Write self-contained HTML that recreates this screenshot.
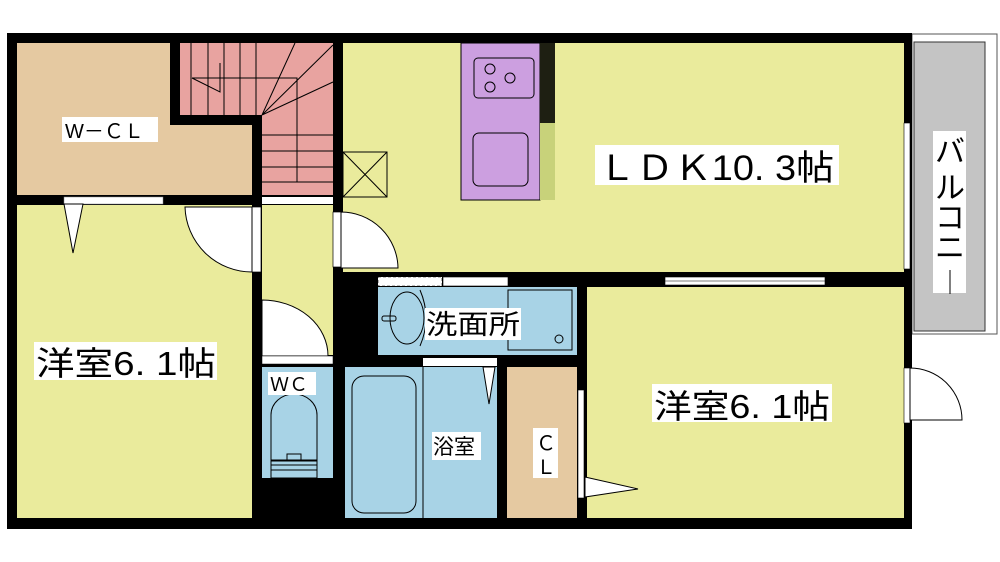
<!DOCTYPE html>
<html><head><meta charset="utf-8"><style>
html,body{margin:0;padding:0;background:#fff;width:1000px;height:562px;overflow:hidden}
svg{display:block}
text{font-family:"Liberation Sans","Noto Sans CJK JP",sans-serif;fill:#000}
</style></head><body>
<svg width="1000" height="562" viewBox="0 0 1000 562">
<!-- balcony -->
<rect x="912" y="34" width="85" height="300" fill="#fff" stroke="#555" stroke-width="1"/>
<rect x="914" y="42" width="71" height="289" fill="#c4c4c4" stroke="#333" stroke-width="1"/>
<!-- outer black -->
<rect x="7" y="33" width="905" height="496" fill="#000"/>
<!-- rooms -->
<rect x="17" y="43" width="153" height="152" fill="#e5c9a1"/>
<rect x="170" y="125" width="82" height="70" fill="#e5c9a1"/>
<rect x="180" y="43" width="153" height="72" fill="#e8a3a0"/>
<rect x="262" y="115" width="71" height="80" fill="#e8a3a0"/>
<rect x="17" y="205" width="235" height="313" fill="#eaeb9c"/>
<rect x="262" y="205" width="71" height="150" fill="#eaeb9c"/>
<rect x="343" y="43" width="561" height="229" fill="#eaeb9c"/>
<rect x="333" y="43" width="10" height="212" fill="#000"/>
<rect x="587" y="287" width="317" height="231" fill="#eaeb9c"/>
<rect x="378" y="287" width="199" height="68" fill="#a8d3e6"/>
<rect x="262" y="367" width="71" height="111" fill="#a8d3e6"/>
<rect x="345" y="367" width="152" height="151" fill="#a8d3e6"/>
<rect x="507" y="367" width="70" height="151" fill="#e5c9a1"/>
<!-- kitchen -->
<rect x="461" y="43" width="79" height="157" fill="#cc9fe0" stroke="#000" stroke-width="1"/>
<rect x="540" y="43" width="15" height="157" fill="#c8d27a"/>
<rect x="540" y="43" width="15" height="80" fill="#000" opacity="0.85"/>
<rect x="474" y="58" width="60" height="40" rx="4" fill="none" stroke="#000"/>
<circle cx="490" cy="69" r="5" fill="none" stroke="#000"/><circle cx="490" cy="87" r="5" fill="none" stroke="#000"/><circle cx="510" cy="78" r="5" fill="none" stroke="#000"/>
<rect x="473" y="133" width="55" height="53" rx="6" fill="none" stroke="#000"/>
<!-- X box -->
<rect x="343" y="152" width="44" height="45" fill="none" stroke="#000"/>
<path d="M343 152L387 197M387 152L343 197" stroke="#000"/>
<!-- stairs lines -->
<g stroke="#000" stroke-width="1" fill="none">
<path d="M191 43V115M208 43V115M224 43V115M240 43V115M256 43V115"/>
<path d="M262 115L295 43M262 115L333 45M262 115L333 82M192 78H297V182M262 135H333M262 151H333M262 167H333M262 182H333M192 78L220 92V63"/>
</g>
<!-- walls openings -->
<rect x="64" y="197" width="99" height="7" fill="#fff" stroke="#888" stroke-width="0.5"/>
<rect x="262" y="197" width="71" height="7" fill="#fff"/>
<polygon points="64,204 83,204 73,253" fill="#fff" stroke="#000"/>
<!-- door bedroom -->
<rect x="252" y="207" width="9" height="65" fill="#fff" stroke="#000" stroke-width="0.7"/>
<path d="M252 207V272A67 67 0 0 1 185 207Z" fill="#fff" stroke="#000"/>
<!-- LDK door -->
<rect x="333" y="212" width="8" height="55" fill="#fff" stroke="#000" stroke-width="0.7"/>
<path d="M341 212V268H398A57 57 0 0 0 341 212Z" fill="#fff" stroke="#000"/>
<!-- WC door -->
<path d="M262 300V356H328A66 56 0 0 0 262 300Z" fill="#fff" stroke="#000"/>
<rect x="262" y="356" width="71" height="8" fill="#fff" stroke="#000" stroke-width="0.5"/>
<!-- windows -->
<rect x="378" y="277" width="64" height="9" fill="#fff" stroke="#000" stroke-width="0.6" stroke-dasharray="3 2"/>
<rect x="443" y="277" width="65" height="9" fill="#fff" stroke="#000" stroke-width="0.6"/>
<rect x="665" y="277" width="160" height="8" fill="#fff" stroke="#000" stroke-width="0.6"/>
<line x1="665" y1="281" x2="825" y2="281" stroke="#000" stroke-width="0.6"/>
<rect x="904" y="123" width="6" height="146" fill="#fff" stroke="#000" stroke-width="0.6"/>
<rect x="904" y="368" width="6" height="55" fill="#fff" stroke="#000" stroke-width="0.6"/>
<path d="M910 368A52 52 0 0 1 962 420H910Z" fill="#fff" stroke="#000"/>
<!-- wash -->
<rect x="508" y="290" width="64" height="60" fill="none" stroke="#000"/>
<circle cx="559" cy="339" r="4" fill="none" stroke="#000"/>
<ellipse cx="407" cy="318" rx="17" ry="26" fill="none" stroke="#000"/>
<path d="M420 290Q432 318 420 346" fill="none" stroke="#000"/>
<rect x="382" y="316" width="14" height="5" rx="2" fill="none" stroke="#000"/>
<!-- bath -->
<rect x="423" y="358" width="74" height="8" fill="#fff"/>
<rect x="352" y="376" width="64" height="137" rx="12" fill="none" stroke="#000"/>
<line x1="423" y1="367" x2="423" y2="518" stroke="#000"/>
<polygon points="483,367 495,367 489,404" fill="#fff" stroke="#000"/>
<!-- WC toilet -->
<path d="M271 460V415A23 21 0 0 1 317 415V460Z" fill="none" stroke="#000"/>
<path d="M271 461H317V470H271Z M287 454H301V461H287Z" fill="none" stroke="#000"/>
<rect x="271" y="465" width="46" height="13" fill="none" stroke="#000"/>
<!-- CL door -->
<rect x="578" y="390" width="6" height="108" fill="#fff" stroke="#000" stroke-width="0.6"/>
<polygon points="585,477 638,489 585,497" fill="#fff" stroke="#000"/>
<!-- labels -->
<rect x="62" y="117" width="96" height="25" fill="#fff"/>
<text x="65" y="138" font-size="20">W－ＣＬ</text>
<rect x="595" y="145" width="244" height="40" fill="#fff"/>
<text x="598" y="180" font-size="35" textLength="236" lengthAdjust="spacingAndGlyphs">ＬＤＫ10. 3帖</text>
<rect x="34" y="342" width="183" height="38" fill="#fff"/>
<text x="36" y="375" font-size="33" textLength="180" lengthAdjust="spacingAndGlyphs">洋室6. 1帖</text>
<rect x="652" y="384" width="180" height="38" fill="#fff"/>
<text x="654" y="418" font-size="33" textLength="176" lengthAdjust="spacingAndGlyphs">洋室6. 1帖</text>
<rect x="425" y="308" width="96" height="32" fill="#fff"/>
<text x="426" y="334" font-size="27" textLength="94" lengthAdjust="spacingAndGlyphs">洗面所</text>
<rect x="268" y="372" width="48" height="23" fill="#fff"/>
<text x="270" y="391" font-size="19">ＷＣ</text>
<rect x="432" y="432" width="49" height="28" fill="#fff"/>
<text x="433" y="454" font-size="21">浴室</text>
<rect x="533" y="428" width="25" height="50" fill="#fff"/>
<text x="536" y="450" font-size="20">Ｃ</text>
<text x="536" y="474" font-size="20">Ｌ</text>
<rect x="933" y="131" width="33" height="162" fill="#fff"/>
<g font-size="30"><text x="935" y="162">バ</text><text x="935" y="198">ル</text><text x="935" y="228">コ</text><text x="935" y="258">ニ</text></g>
<text x="938" y="291" font-size="24">｜</text>
</svg>
</body></html>
